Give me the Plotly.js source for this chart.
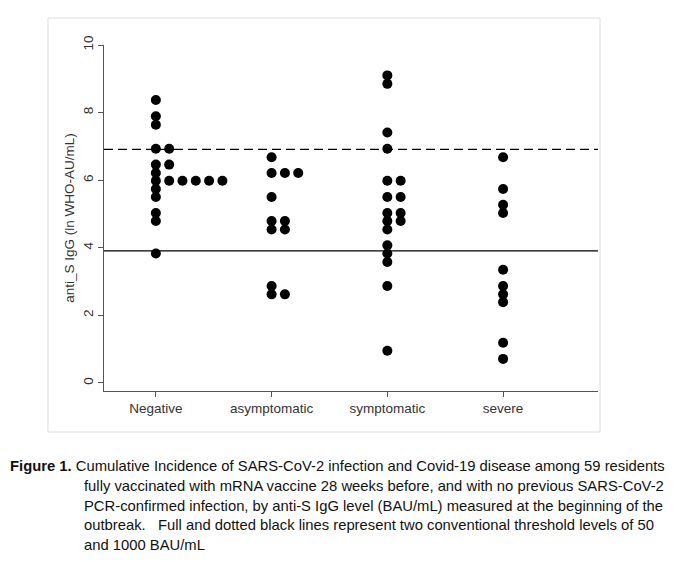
<!DOCTYPE html>
<html><head><meta charset="utf-8">
<script src="https://cdn.plot.ly/plotly-3.0.1.min.js"></script>
<style>body{margin:0;background:#fff}#c{width:680px;height:562px}</style>
</head><body><div id="c"></div>
<script>
const categories = ["Negative","asymptomatic","symptomatic","severe"];
const negVals = [8.37,7.89,7.64,6.93,6.46,6.21,5.98,5.74,5.5,5.03,4.79,3.83, 6.93,6.46,5.98, 5.98, 5.98, 5.98, 5.98];
const negCols = [0,0,0,0,0,0,0,0,0,0,0,0, 1,1,1, 2,3,4,5];
const asyVals = [6.68,6.21,5.5,4.79,4.54,2.87,2.62, 6.21,4.79,4.54,2.62, 6.21];
const asyCols = [0,0,0,0,0,0,0, 1,1,1,1, 2];
const symVals = [9.1,8.85,7.41,6.93,5.98,5.5,5.03,4.79,4.54,4.07,3.83,3.58,2.87,0.95, 5.98,5.5,5.03,4.79];
const symCols = [0,0,0,0,0,0,0,0,0,0,0,0,0,0, 1,1,1,1];
const sevVals = [6.68,5.74,5.27,5.03,3.35,2.87,2.62,2.39,1.19,0.71];
const sevCols = [0,0,0,0,0,0,0,0,0,0];
const thresholds = [3.91, 6.91];

const groups = [[negVals,negCols],[asyVals,asyCols],[symVals,symCols],[sevVals,sevCols]];
const xs=[], ys=[];
groups.forEach((g,i)=>{ g[0].forEach((v,j)=>{ xs.push(i+1+g[1][j]*0.115); ys.push(v); }); });

const traces=[{x:xs,y:ys,type:'scatter',mode:'markers',marker:{color:'#000',size:10},hoverinfo:'y'}];
const fnt={family:'Liberation Sans, Arial, sans-serif',size:13.5,color:'#333'};
const cap = [
 ['<b>Figure 1.</b> Cumulative Incidence of SARS-CoV-2 infection and Covid-19 disease among 59 residents',8],
 ['fully vaccinated with mRNA vaccine 28 weeks before, and with no previous SARS-CoV-2',82],
 ['PCR-confirmed infection, by anti-S IgG level (BAU/mL) measured at the beginning of the',82],
 ['outbreak.   Full and dotted black lines represent two conventional threshold levels of 50',82],
 ['and 1000 BAU/mL',82]];
const anns = cap.map((c,i)=>({text:c[0],xref:'paper',yref:'paper',x:(c[1]-104)/494,
  y:(391-(466+i*19.8))/346,xanchor:'left',yanchor:'middle',showarrow:false,
  font:{family:'Liberation Sans, Arial, sans-serif',size:14.8,color:'#111'}}));
const layout={
 width:680,height:562,margin:{l:104,r:82,t:45,b:171},
 paper_bgcolor:'#fff',plot_bgcolor:'#fff',showlegend:false,
 xaxis:{range:[0.552,4.82],tickvals:[1,2,3,4],ticktext:categories,showgrid:false,zeroline:false,
   showline:true,linecolor:'#555',ticks:'outside',ticklen:5,tickcolor:'#555',tickfont:fnt},
 yaxis:{range:[-0.24,10],tickvals:[0,2,4,6,8,10],tickangle:-90,showgrid:false,zeroline:false,
   showline:true,linecolor:'#555',ticks:'outside',ticklen:5,tickcolor:'#555',tickfont:fnt,
   title:{text:'anti_S IgG (ln WHO-AU/mL)',font:fnt,standoff:2}},
 shapes:[
  {type:'line',xref:'paper',x0:0,x1:1,yref:'y',y0:thresholds[0],y1:thresholds[0],line:{color:'#000',width:1.3}},
  {type:'line',xref:'paper',x0:0,x1:1,yref:'y',y0:thresholds[1],y1:thresholds[1],line:{color:'#000',width:1.3,dash:'9px,5px'}},
  {type:'rect',xref:'paper',yref:'paper',x0:(48-104)/494,x1:(600-104)/494,y0:(391-432)/346,y1:(391-18)/346,line:{color:'#ddd',width:1}}
 ],
 annotations:anns
};
Plotly.newPlot('c',traces,layout,{displayModeBar:false,staticPlot:true});
</script></body></html>
